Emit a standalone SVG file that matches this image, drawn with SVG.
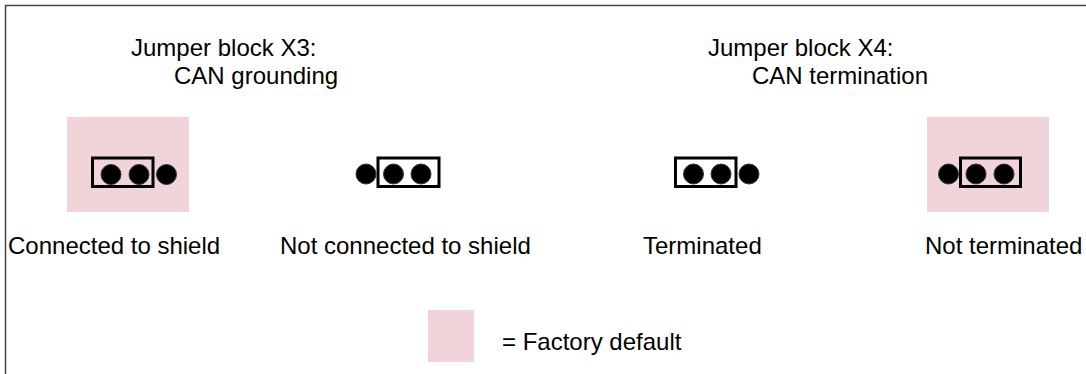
<svg xmlns="http://www.w3.org/2000/svg" width="1086" height="374" viewBox="0 0 1086 374">
<style>
text{font-family:"Liberation Sans",Arial,sans-serif;font-size:24px;fill:#000}
.pink{fill:#f0d4da}
.jb{fill:none;stroke:#000;stroke-width:3}
.pin{fill:#000;stroke:#333;stroke-width:1}
</style>
<rect width="1086" height="374" fill="#fff"/>
<g id="frame" fill="none" stroke="#444" stroke-width="1.5">
<path d="M5.5 374V5.5H1086"/>
</g>
<g id="title-x3">
<text x="131" y="56">Jumper block X3:</text>
<text x="174" y="84">CAN grounding</text>
</g>
<g id="title-x4">
<text x="708" y="56">Jumper block X4:</text>
<text x="752" y="84">CAN termination</text>
</g>
<g id="x3-connected">
<rect class="pink" x="67" y="117" width="122" height="95"/>
<rect class="jb" x="92.5" y="158" width="60.5" height="28.5"/>
<circle class="pin" cx="111" cy="174.5" r="10"/>
<circle class="pin" cx="139" cy="174.5" r="10"/>
<circle class="pin" cx="166.5" cy="174.5" r="10"/>
<text x="8" y="254">Connected to shield</text>
</g>
<g id="x3-notconnected">
<rect class="jb" x="378" y="158" width="61" height="28.5"/>
<circle class="pin" cx="366" cy="174" r="10"/>
<circle class="pin" cx="393.5" cy="174" r="10"/>
<circle class="pin" cx="421" cy="174" r="10"/>
<text x="280" y="254">Not connected to shield</text>
</g>
<g id="x4-terminated">
<rect class="jb" x="675.5" y="158" width="60.5" height="28.5"/>
<circle class="pin" cx="693.5" cy="174" r="10"/>
<circle class="pin" cx="721" cy="174" r="10"/>
<circle class="pin" cx="749" cy="174" r="10"/>
<text x="643" y="254">Terminated</text>
</g>
<g id="x4-notterminated">
<rect class="pink" x="927" y="117" width="122" height="95"/>
<rect class="jb" x="960.5" y="158" width="60" height="28.5"/>
<circle class="pin" cx="948.5" cy="174" r="10"/>
<circle class="pin" cx="976" cy="174" r="10"/>
<circle class="pin" cx="1004" cy="174" r="10"/>
<text x="925" y="254">Not terminated</text>
</g>
<g id="legend">
<rect class="pink" x="428" y="310" width="46" height="52"/>
<text x="502" y="350">= Factory default</text>
</g>
</svg>
